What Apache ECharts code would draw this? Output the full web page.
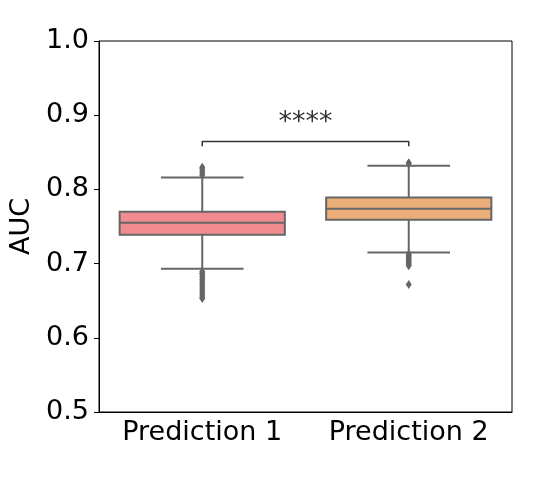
<!DOCTYPE html>
<html>
<head>
<meta charset="utf-8">
<script src="https://cdn.jsdelivr.net/npm/echarts@6/dist/echarts.min.js"></script>
<style>
html, body { margin: 0; padding: 0; background: #fff; }
#main { width: 536px; height: 480px; }
</style>
</head>
<body>
<div id="main"></div>
<script>
// categories and box stats [min, q1, median, q3, max]
var categories = ['Prediction 1', 'Prediction 2'];
var boxStats = [
  [0.693, 0.739, 0.755, 0.770, 0.816],
  [0.715, 0.759, 0.774, 0.789, 0.832]
];
var outliers1 = [0.819, 0.822, 0.825, 0.828, 0.830,
  0.689, 0.687, 0.685, 0.682, 0.679, 0.676, 0.673, 0.670, 0.667, 0.664, 0.661, 0.658, 0.655, 0.653];
var outliers2 = [0.835, 0.836,
  0.713, 0.711, 0.709, 0.707, 0.705, 0.703, 0.701, 0.699, 0.697, 0.672];
var boxColors = ['#f08c90', '#ecae78'];
var yTicks = [0.5, 0.6, 0.7, 0.8, 0.9, 1.0];
var sigBracket = { from: 0, to: 1, low: 0.858, high: 0.8645, textY: 0.890, text: '****' };

var lineGray = '#666666';
var font = 'DejaVu Sans';

var boxData = boxStats.map(function (s, i) { return [i].concat(s); });
var outlierData = [];
outliers1.forEach(function (v) { outlierData.push([0, v]); });
outliers2.forEach(function (v) { outlierData.push([1, v]); });

function renderBox(params, api) {
  var i = api.value(0);
  var bw = api.size([1, 0])[0] * 0.8;
  var cap = bw / 2;
  var pMin = api.coord([i, api.value(1)]);
  var pQ1 = api.coord([i, api.value(2)]);
  var pMed = api.coord([i, api.value(3)]);
  var pQ3 = api.coord([i, api.value(4)]);
  var pMax = api.coord([i, api.value(5)]);
  var x = pMed[0];
  var ls = { stroke: lineGray, lineWidth: 2 };
  return {
    type: 'group',
    children: [
      { type: 'line', shape: { x1: x, y1: pQ1[1], x2: x, y2: pMin[1] }, style: ls },
      { type: 'line', shape: { x1: x, y1: pQ3[1], x2: x, y2: pMax[1] }, style: ls },
      { type: 'line', shape: { x1: x - cap / 2, y1: pMin[1], x2: x + cap / 2, y2: pMin[1] }, style: ls },
      { type: 'line', shape: { x1: x - cap / 2, y1: pMax[1], x2: x + cap / 2, y2: pMax[1] }, style: ls },
      { type: 'rect', shape: { x: x - bw / 2, y: pQ3[1], width: bw, height: pQ1[1] - pQ3[1] },
        style: { fill: boxColors[i], stroke: lineGray, lineWidth: 2 } },
      { type: 'line', shape: { x1: x - bw / 2, y1: pMed[1], x2: x + bw / 2, y2: pMed[1] }, style: ls }
    ]
  };
}

var chart = echarts.init(document.getElementById('main'));
chart.setOption({
  animation: false,
  backgroundColor: '#fff',
  grid: { left: 99, right: 24, top: 41, bottom: 68, show: true, borderColor: '#000', borderWidth: 1,
    outerBoundsMode: 'none' },
  xAxis: [{
    type: 'category',
    data: categories,
    axisLine: { onZero: false, lineStyle: { color: '#000', width: 1 } },
    axisTick: { alignWithLabel: true, length: 5, lineStyle: { color: '#000' } },
    axisLabel: { interval: 0, hideOverlap: false, color: '#000', fontSize: 27, fontFamily: font, margin: 7 },
    splitLine: { show: false }
  }, {
    type: 'value', min: -0.5, max: 1.5, show: false
  }],
  yAxis: {
    type: 'value',
    min: 0.5, max: 1.0, interval: 0.1,
    name: 'AUC',
    nameLocation: 'middle',
    nameGap: 64,
    nameTextStyle: { color: '#000', fontSize: 27, fontFamily: font },
    axisLine: { show: true, onZero: false, lineStyle: { color: '#000', width: 1 } },
    axisTick: { show: true, length: 5, lineStyle: { color: '#000' } },
    axisLabel: { color: '#000', fontSize: 27, fontFamily: font, margin: 10,
      formatter: function (v) { return yTicks.indexOf(+v.toFixed(1)) >= 0 ? v.toFixed(1) : ''; } },
    splitLine: { show: false }
  },
  series: [{
    type: 'custom',
    renderItem: renderBox,
    data: boxData,
    encode: { x: 0, y: [1, 2, 3, 4, 5] },
    z: 2
  }, {
    type: 'scatter',
    data: outlierData,
    symbol: 'diamond',
    symbolSize: [6, 9],
    itemStyle: { color: lineGray, opacity: 1 },
    z: 3
  }, {
    type: 'line',
    xAxisIndex: 1,
    data: [[sigBracket.from, sigBracket.low], [sigBracket.from, sigBracket.high],
           [sigBracket.to, sigBracket.high], [sigBracket.to, sigBracket.low]],
    symbol: 'none',
    lineStyle: { color: '#333', width: 1.5 },
    z: 4
  }, {
    type: 'scatter',
    xAxisIndex: 1,
    data: [[(sigBracket.from + sigBracket.to) / 2, sigBracket.textY]],
    symbolSize: 0,
    label: { show: true, position: 'inside', formatter: sigBracket.text,
      color: '#000', fontSize: 27, fontFamily: font },
    z: 5
  }]
});
</script>
</body>
</html>
